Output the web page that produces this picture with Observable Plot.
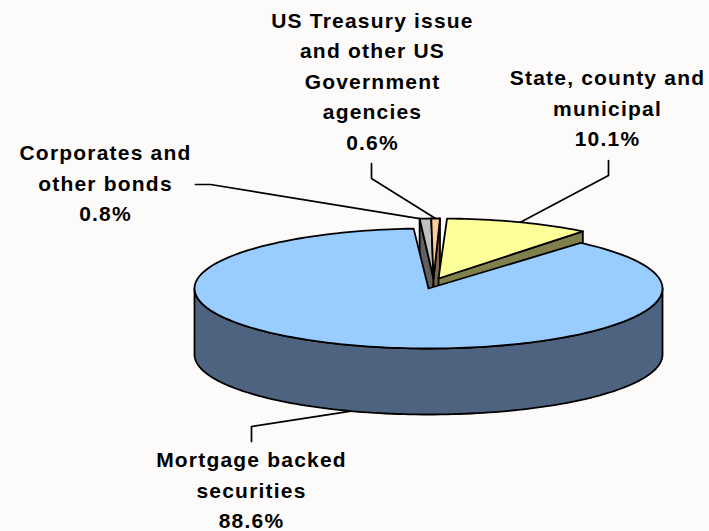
<!DOCTYPE html>
<html>
<head>
<meta charset="utf-8">
<script src="https://cdn.jsdelivr.net/npm/d3@7"></script>
<script src="https://cdn.jsdelivr.net/npm/@observablehq/plot@0.6"></script>
<style>
  html, body { margin: 0; padding: 0; background: #fdfbf9; }
  svg { display: block; }
</style>
</head>
<body>
<div id="chart"></div>
<script>
// ---- data ----
const categories = [
  "Corporates and\nother bonds\n0.8%",
  "US Treasury issue\nand other US\nGovernment\nagencies\n0.6%",
  "State, county and\nmunicipal\n10.1%",
  "Mortgage backed\nsecurities\n88.6%"
];
const shares = [0.8, 0.6, 10.1, 88.6];

// ---- styles and layout, separate from the data ----
const topFills  = ["#C0C0C0", "#FFCC99", "#FFFF99", "#99CCFF"];
const wallFills = ["#606060", "#80664D", "#80804D", "#4D6380"];
const rx = 234, ry = 60, depth = 66;
const pieCenter = [428, 288];
const explode = [[5, -10], [5, -10], [10, -10], [0, 0]];
const firstAngle = -3.4, angleGain = 0.99;
const angleGaps = [0, 0, 0.5, 2.5];
const labelAt = [[105, 180.5], [372, 78.5], [607, 105.5], [251, 487.5]];
const leaders = [
  [[195, 184], [210, 184], null],
  [[371, 163], [371, 178], null],
  [[608, 160], [608, 175], null],
  [[251, 441], [251, 426], null]
];
const leaderAngle = [-3.4, 0.5, 20.5, 199.3];

// ---- geometry from the values ----
const rad = Math.PI / 180;
let cursor = firstAngle;
const slices = shares.map((s, i) => {
  cursor += angleGaps[i];
  const a0 = cursor;
  const a1 = cursor + (s / 100) * 360 * angleGain;
  cursor = a1;
  return {a0, a1, cx: pieCenter[0] + explode[i][0], cy: pieCenter[1] + explode[i][1],
          top: topFills[i], wall: wallFills[i]};
});
const rim = (s, a, dz = 0) => ({
  x: s.cx + rx * Math.sin(a * rad),
  y: s.cy - ry * Math.cos(a * rad) + dz
});
const sweep = (s, a0, a1, dz = 0) => {
  const n = Math.max(2, Math.ceil(Math.abs(a1 - a0) / 1.5));
  return d3.range(n + 1).map(k => rim(s, a0 + (a1 - a0) * k / n, dz));
};
const closed = pts => [...pts, pts[0]];
const topFace = s => closed([{x: s.cx, y: s.cy}, ...sweep(s, s.a0, s.a1)]);
const radialWall = (s, a) => closed([
  rim(s, a), {x: s.cx, y: s.cy}, {x: s.cx, y: s.cy + depth}, rim(s, a, depth)
]);
const outerWall = s => closed([...sweep(s, 90, 270), ...sweep(s, 270, 90, depth)]);

const lineStyle = {stroke: "#000", strokeWidth: 1.8, strokeLinejoin: "round"};
const face = (pts, fill) => Plot.line(pts, {x: "x", y: "y", fill, ...lineStyle});

const [gray, orange, yellow, blue] = slices;

const leaderLines = leaders.map((l, i) => {
  const s = slices[i];
  const a = leaderAngle[i];
  const end = i === 3 ? rim(s, a, depth) : rim(s, a);
  const pts = [{x: l[0][0], y: l[0][1]}, {x: l[1][0], y: l[1][1]}, end];
  return Plot.line(pts, {x: "x", y: "y", stroke: "#000", strokeWidth: 1.7});
});

const labels = categories.map((t, i) => ({text: t, x: labelAt[i][0], y: labelAt[i][1]}));

const chart = Plot.plot({
  width: 709,
  height: 531,
  margin: 0,
  x: {domain: [0, 709], range: [0, 709], axis: null},
  y: {domain: [0, 531], range: [0, 531], axis: null},
  style: {background: "transparent", letterSpacing: "1.2px"},
  marks: [
    ...leaderLines,
    face(radialWall(gray, gray.a0), gray.wall),
    face(radialWall(orange, orange.a1), orange.wall),
    face(radialWall(yellow, yellow.a1), yellow.wall),
    face(topFace(gray), gray.top),
    face(topFace(orange), orange.top),
    face(topFace(yellow), yellow.top),
    face(outerWall(blue), blue.wall),
    face(topFace(blue), blue.top),
    Plot.text(labels, {
      x: "x", y: "y", text: "text",
      fontFamily: "Liberation Sans, Arial, sans-serif",
      fontWeight: "bold",
      fontSize: 21,
      lineHeight: 30.5 / 21,
      fill: "#000",
      textAnchor: "middle"
    })
  ]
});
document.getElementById("chart").appendChild(chart);
</script>
</body>
</html>
